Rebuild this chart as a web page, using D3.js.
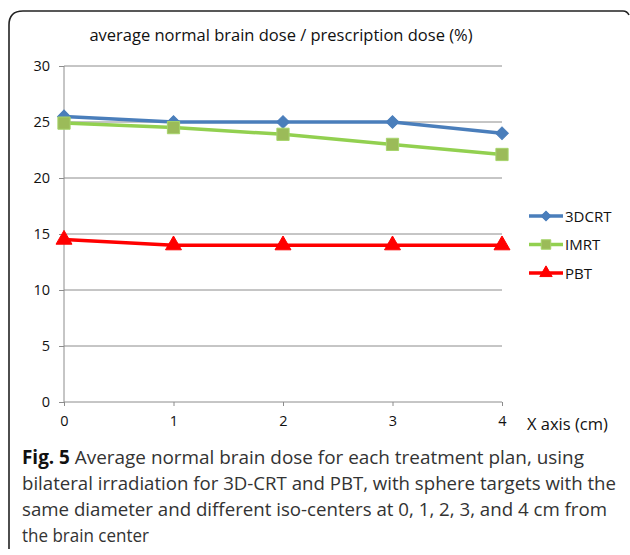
<!DOCTYPE html>
<html><head><meta charset="utf-8">
<script src="https://cdn.jsdelivr.net/npm/d3@7"></script>
<style>body{margin:0;background:#fff}svg{display:block}</style>
</head><body>
<script>
const xValues = [0, 1, 2, 3, 4];
const yTicks = [0, 5, 10, 15, 20, 25, 30];
const series3DCRT = [25.5, 25, 25, 25, 24];
const seriesIMRT = [24.9, 24.5, 23.9, 23.0, 22.1];
const seriesPBT = [14.5, 14, 14, 14, 14];
const seriesNames = ["3DCRT", "IMRT", "PBT"];
const chartTitle = "average normal brain dose / prescription dose (%)";
const xAxisLabel = "X axis (cm)";
const captionBold = "Fig. 5";
const captionLines = [
  " Average normal brain dose for each treatment plan, using",
  "bilateral irradiation for 3D-CRT and PBT, with sphere targets with the",
  "same diameter and different iso-centers at 0, 1, 2, 3, and 4 cm from",
  "the brain center"
];

const W = 630, H = 555;
const svg = d3.select("body").append("svg").attr("width", W).attr("height", H);
const font = "'Open Sans', sans-serif";

// frame
svg.append("path")
  .attr("d", "M9,549 L9,25 Q9,11 23,11 L623,11 Q627,11 629,15")
  .attr("fill", "none").attr("stroke", "#222").attr("stroke-width", 1.6);

const x = d3.scaleLinear().domain([0, 4]).range([64, 502]);
const y = d3.scaleLinear().domain([0, 30]).range([402, 66]);

// grid
svg.append("g").selectAll("line").data(yTicks.filter(d => d > 0)).join("line")
  .attr("x1", 64).attr("x2", 502).attr("y1", d => y(d)).attr("y2", d => y(d))
  .attr("stroke", "#8c8c8c").attr("stroke-width", 1);

// y axis
const yAxis = svg.append("g").attr("transform", "translate(64,0)")
  .call(d3.axisLeft(y).tickValues(yTicks).tickSize(5).tickPadding(9).tickFormat(d3.format("d")));
yAxis.selectAll("path,line").attr("stroke", "#8c8c8c");
yAxis.selectAll("text").attr("font-family", font).attr("font-size", 14.5).attr("fill", "#111");
yAxis.select(".domain").attr("d", "M0,66V402");

// x axis
const xAxis = svg.append("g").attr("transform", "translate(0,402)")
  .call(d3.axisBottom(x).tickValues(xValues).tickSize(4).tickPadding(10).tickFormat(d3.format("d")));
xAxis.selectAll("path,line").attr("stroke", "#8c8c8c");
xAxis.select(".domain").attr("d", "M64,0H502");
xAxis.selectAll("text").attr("font-family", font).attr("font-size", 14.5).attr("fill", "#111");

svg.append("text").attr("x", 527).attr("y", 430).text(xAxisLabel)
  .attr("font-family", font).attr("font-size", 16.5).attr("fill", "#111");

svg.append("text").attr("x", 281).attr("y", 41).attr("text-anchor", "middle").text(chartTitle)
  .attr("font-family", font).attr("font-size", 16.5).attr("fill", "#111");

const line = d3.line().x((d, i) => x(xValues[i])).y(d => y(d));
const styles = [
  {data: series3DCRT, color: "#4a7ebb", mfill: "#4a7ebb", mstroke: "#4a7ebb", sym: d3.symbolSquare, rot: 45, size: 80},
  {data: seriesIMRT, color: "#92d050", mfill: "#9bbb59", mstroke: "#a6d46a", sym: d3.symbolSquare, rot: 0, size: 150},
  {data: seriesPBT, color: "#ff0000", mfill: "#ff0000", mstroke: "#ff0000", sym: d3.symbolTriangle, rot: 0, size: 110}
];

styles.forEach(s => {
  svg.append("path").attr("d", line(s.data)).attr("fill", "none")
    .attr("stroke", s.color).attr("stroke-width", 3.5);
});
styles.forEach(s => {
  svg.append("g").selectAll("path").data(s.data).join("path")
    .attr("transform", (d, i) => `translate(${x(xValues[i])},${y(d)}) rotate(${s.rot})`)
    .attr("d", d3.symbol().type(s.sym).size(s.size))
    .attr("fill", s.mfill).attr("stroke", s.mstroke).attr("stroke-width", 1);
});

// legend
const lg = svg.append("g");
seriesNames.forEach((name, i) => {
  const s = styles[i];
  const ly = 216 + i * 28.5;
  lg.append("line").attr("x1", 529).attr("x2", 563).attr("y1", ly).attr("y2", ly)
    .attr("stroke", s.color).attr("stroke-width", 3.5);
  lg.append("path").attr("transform", `translate(546,${ly}) rotate(${s.rot})`)
    .attr("d", d3.symbol().type(s.sym).size(s.size * 0.6))
    .attr("fill", s.mfill).attr("stroke", s.mstroke);
  lg.append("text").attr("x", 565).attr("y", ly + 5.5).text(name)
    .attr("font-family", font).attr("font-size", 15).attr("fill", "#111");
});

// caption
const capWidths = [562, 594, 585, 127];
const cap = svg.append("g").attr("font-family", font).attr("font-size", 19).attr("fill", "#333");
captionLines.forEach((t, i) => {
  const tx = cap.append("text").attr("x", 22).attr("y", 464 + i * 26)
    .attr("textLength", capWidths[i]).attr("lengthAdjust", "spacingAndGlyphs");
  if (i === 0) tx.append("tspan").attr("font-weight", "bold").attr("fill", "#111").text(captionBold);
  tx.append("tspan").text(t);
});
</script>
</body></html>
